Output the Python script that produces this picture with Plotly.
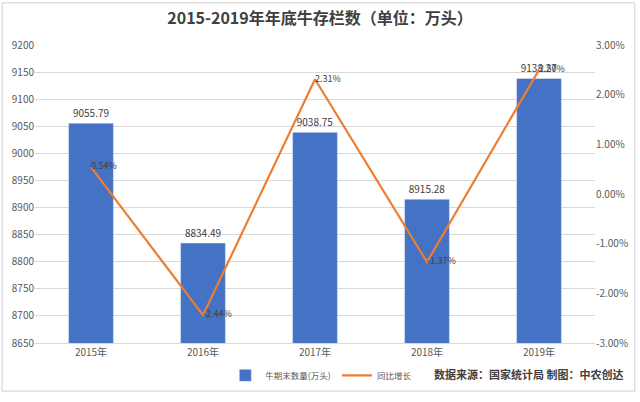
import plotly.graph_objects as go

years = ["2015年", "2016年", "2017年", "2018年", "2019年"]
stock = [9055.79, 8834.49, 9038.75, 8915.28, 9138.27]
growth = [0.54, -2.44, 2.31, -1.37, 2.50]
left_ticks = list(range(8650, 9201, 50))
right_ticks = [-3, -2, -1, 0, 1, 2, 3]

FONT = "Noto Sans CJK SC"
fig = go.Figure()
fig.add_trace(go.Bar(
    x=years, y=stock, name="牛期末数量(万头)",
    marker_color="#4472C4", width=0.4, legend="legend",
    text=[f"{v:.2f}" for v in stock], textposition="outside",
    textfont=dict(size=10, color="#404040"), cliponaxis=False,
))
fig.add_trace(go.Scatter(
    x=years, y=growth, name="同比增长", yaxis="y2", legend="legend2",
    mode="lines+text", line=dict(color="#ED7D31", width=2.2),
    text=[f"{v:.2f}%" for v in growth], textposition="middle right",
    textfont=dict(size=9, color="#404040"), cliponaxis=False,
))

W, H = 640, 402
L, R, T, B = 35, 43, 45, 53
pw, ph = W - L - R, H - T - B
def px(x): return (x - L) / pw
def py(y): return (H - B - y) / ph

leg_common = dict(orientation="h", xanchor="left", yanchor="middle",
                  font=dict(size=8.5, color="#595959"), bgcolor="rgba(0,0,0,0)",
                  itemwidth=30)
fig.update_layout(
    width=W, height=H,
    margin=dict(l=L, r=R, t=T, b=B),
    paper_bgcolor="white", plot_bgcolor="white",
    font=dict(family=FONT, size=10, color="#595959"),
    title=dict(text="<b>2015-2019年年底牛存栏数（单位：万头）</b>",
               x=0.5, xanchor="center", y=1 - 18 / H, yanchor="middle",
               font=dict(size=16, color="#404040", family=FONT)),
    xaxis=dict(showgrid=False, showline=True, linecolor="#D9D9D9",
               ticks="", tickfont=dict(size=10, color="#595959")),
    yaxis=dict(range=[8650, 9200], tickvals=left_ticks, showgrid=True,
               gridcolor="#D9D9D9", zeroline=False, ticks="",
               tickfont=dict(size=10, color="#595959")),
    yaxis2=dict(range=[-3, 3], overlaying="y", side="right",
                tickvals=right_ticks, ticktext=[f"{v:.2f}%" for v in right_ticks],
                showgrid=False, zeroline=False, ticks="",
                tickfont=dict(size=10, color="#595959")),
    showlegend=True,
    legend=dict(x=px(226), y=py(382), **leg_common),
    legend2=dict(x=px(338), y=py(382), **leg_common),
    bargap=0.6,
)
fig.add_annotation(text="<b>数据来源：国家统计局 制图：中农创达</b>",
                   xref="paper", yref="paper", x=px(628), y=py(381),
                   xanchor="right", yanchor="middle", showarrow=False,
                   font=dict(size=11, color="#404040", family=FONT))
fig.add_shape(type="rect", xref="paper", yref="paper",
              x0=px(2), x1=px(637), y0=py(398), y1=py(2),
              line=dict(color="#D0D0D0", width=1), layer="below")
fig.write_html("out.html")
